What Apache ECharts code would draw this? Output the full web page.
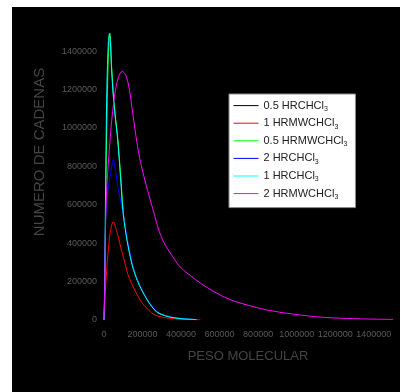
<!DOCTYPE html>
<html><head><meta charset="utf-8">
<script src="https://cdn.jsdelivr.net/npm/echarts@6/dist/echarts.min.js"></script>
<style>html,body{margin:0;padding:0;background:#fff;}#c{width:401px;height:392px;}</style>
</head><body><div id="c"></div>
<script>
// Legend / series names (last char "3" is drawn as subscript)
const seriesNames = ['0.5 HRCHCl3','1 HRMWCHCl3','0.5 HRMWCHCl3','2 HRCHCl3','1 HRCHCl3','2 HRMWCHCl3'];
const seriesColors = ['#000000','#ff0000','#00ff00','#0000ff','#00ffff','#ff00ff'];
const xTicks = [0,200000,400000,600000,800000,1000000,1200000,1400000];
const yTicks = [0,200000,400000,600000,800000,1000000,1200000,1400000];
const xTitle = 'PESO MOLECULAR';
const yTitle = 'NUMERO DE CADENAS';

// [molecular weight, number of chains]
const hr05 = [[0,0],[3000,120000],[6000,380000],[10000,700000],[14000,950000],[18000,1100000],[24000,1200000],[30000,1220000],[36000,1170000],[44000,1060000],[55000,950000],[68000,840000],[80000,740000],[95000,600000],[110000,480000],[130000,370000],[150000,280000],[175000,205000],[200000,150000],[250000,70000],[300000,29000],[400000,7000],[480000,2000]];
const hrmw1 = [[0,0],[2000,50000],[5000,110000],[10000,200000],[20000,340000],[30000,440000],[40000,495000],[48000,512000],[55000,500000],[65000,465000],[75000,430000],[90000,365000],[100000,330000],[125000,235000],[160000,155000],[190000,100000],[210000,75000],[235000,48000],[260000,28000],[300000,15000],[350000,8000],[420000,3000],[500000,1000]];
const hrmw05 = [[0,0],[4000,150000],[8000,500000],[12000,850000],[16000,1100000],[20000,1280000],[25000,1430000],[30000,1495000],[35000,1440000],[40000,1310000],[50000,1160000],[60000,1050000],[70000,960000],[80000,840000],[90000,700000],[100000,560000],[115000,450000],[130000,365000],[150000,275000],[175000,205000],[200000,150000],[225000,105000],[250000,68000],[275000,40000],[300000,28000],[340000,16000],[400000,7000],[480000,2000]];
const hr2 = [[0,0],[3000,150000],[6000,400000],[10000,560000],[15000,620000],[20000,670000],[30000,740000],[40000,800000],[48000,835000],[55000,810000],[62000,760000],[70000,700000],[80000,650000],[90000,600000],[100000,550000],[110000,490000],[125000,400000],[150000,280000],[175000,205000],[200000,152000],[225000,108000],[250000,72000],[275000,45000],[300000,30000],[340000,17000],[400000,8000],[480000,2500]];
const hr1 = [[0,0],[3000,150000],[6000,450000],[10000,850000],[14000,1150000],[18000,1330000],[23000,1450000],[28000,1490000],[33000,1450000],[38000,1330000],[48000,1170000],[58000,1060000],[68000,970000],[78000,850000],[88000,710000],[98000,570000],[113000,455000],[128000,370000],[148000,280000],[173000,205000],[198000,152000],[223000,107000],[248000,70000],[273000,43000],[300000,29000],[340000,16000],[400000,7000],[480000,2000]];
const hrmw2 = [[0,0],[3000,100000],[5000,250000],[8000,500000],[14000,680000],[20000,780000],[30000,920000],[40000,1040000],[50000,1130000],[60000,1200000],[75000,1265000],[94000,1295000],[110000,1280000],[125000,1235000],[135000,1180000],[150000,1070000],[170000,930000],[190000,820000],[213000,725000],[240000,625000],[265000,537000],[282000,475000],[310000,405000],[343000,350000],[395000,277000],[450000,230000],[499000,193000],[550000,160000],[603000,130000],[650000,108000],[706000,89000],[780000,68000],[847000,52000],[930000,38000],[1018000,26000],[1100000,17000],[1190000,11000],[1330000,6000],[1500000,3000]];
const seriesData = [hr05, hrmw1, hrmw05, hr2, hr1, hrmw2];

const chart = echarts.init(document.getElementById('c'), null, {renderer:'canvas'});
chart.setOption({
  backgroundColor: '#ffffff',
  animation: false,
  graphic: [
    {type:'rect', z:-10, silent:true, shape:{x:12,y:7,width:388,height:385}, style:{fill:'#000'}},
    {type:'text', z:100, x:40, y:152, rotation:Math.PI/2, style:{text:yTitle, fill:'#444', font:'15px Arial, "Liberation Sans", sans-serif', align:'center', verticalAlign:'middle'}},
    {type:'text', z:100, x:248, y:356, style:{text:xTitle, fill:'#444', font:'13px Arial, "Liberation Sans", sans-serif', align:'center', verticalAlign:'middle'}}
  ],
  grid: {left:104, right:8, top:32, bottom:72, containLabel:false},
  xAxis: {
    type:'value', min:0, max:1500000, interval:200000,
    axisLine:{show:false}, axisTick:{show:false}, splitLine:{show:false},
    axisLabel:{color:'#5a5a5a', fontSize:9, fontFamily:'Arial, "Liberation Sans", sans-serif', margin:10,
      formatter: v => xTicks.includes(v) ? String(v) : ''}
  },
  yAxis: {
    type:'value', min:0, max:1500000, interval:200000,
    axisLine:{show:false}, axisTick:{show:false}, splitLine:{show:false},
    axisLabel:{color:'#5a5a5a', fontSize:9, fontFamily:'Arial, "Liberation Sans", sans-serif', margin:7,
      formatter: v => yTicks.includes(v) ? String(v) : ''}
  },
  legend: {
    orient:'vertical', left:229, top:94,
    backgroundColor:'#ffffff', borderColor:'#8c8c8c', borderWidth:1, borderRadius:0,
    padding:[6,8,7,4], itemWidth:25, itemHeight:14, itemGap:5,
    data: seriesNames,
    itemStyle:{opacity:0},
    lineStyle:{width:1},
    formatter: n => '{n|' + n.slice(0,-1) + '}{s|' + n.slice(-1) + '}',
    textStyle:{color:'#222', fontSize:11, fontFamily:'Arial, "Liberation Sans", sans-serif',
      rich:{ n:{fontSize:11, color:'#222', fontFamily:'Arial, "Liberation Sans", sans-serif'},
             s:{fontSize:7, color:'#222', fontFamily:'Arial, "Liberation Sans", sans-serif', verticalAlign:'bottom', padding:[7,0,0,0]} }}
  },
  series: seriesNames.map((n,i) => ({
    name:n, type:'line', data:seriesData[i], symbol:'none', smooth:0.3,
    lineStyle:{color:seriesColors[i], width:1}, itemStyle:{color:seriesColors[i]}
  }))
});
</script></body></html>
